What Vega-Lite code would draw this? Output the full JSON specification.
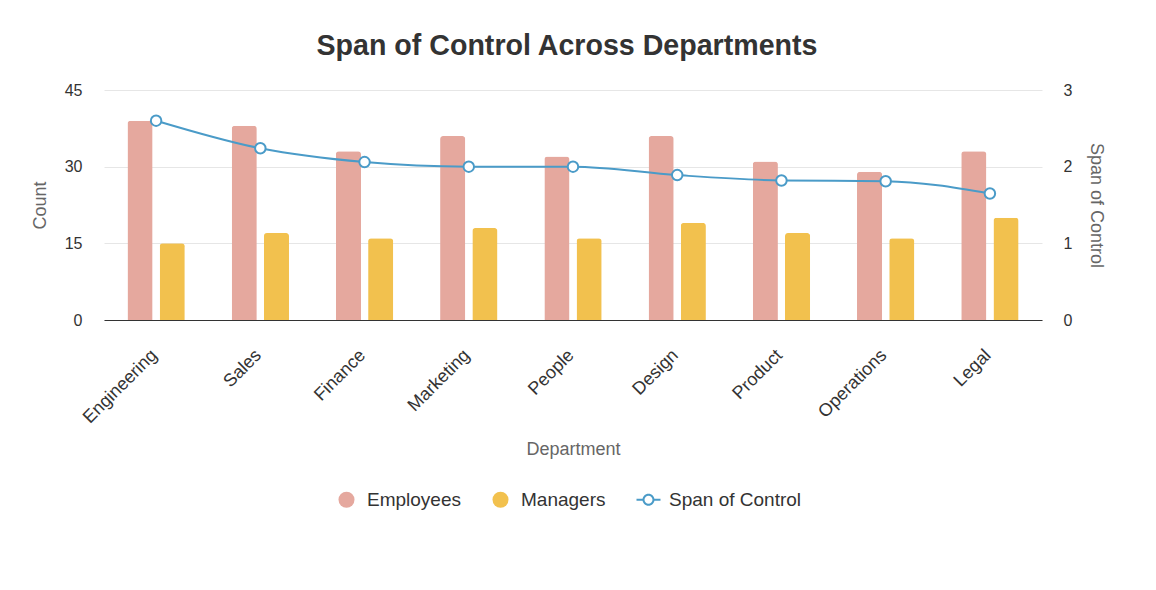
{
  "$schema": "https://vega.github.io/schema/vega-lite/v6.json",
  "autosize": {"type": "none"},
  "width": 938,
  "height": 230,
  "padding": {"left": 104, "top": 90, "right": 114, "bottom": 270},
  "background": "#ffffff",
  "title": {
    "text": "Span of Control Across Departments",
    "fontSize": 28.6,
    "fontWeight": "bold",
    "color": "#333333",
    "font": "Liberation Sans",
    "anchor": "middle",
    "dx": -6,
    "offset": 21
  },
  "config": {
    "view": {"stroke": null},
    "font": "Liberation Sans",
    "axis": {
      "labelFont": "Liberation Sans",
      "titleFont": "Liberation Sans",
      "labelFontSize": 16,
      "labelColor": "#333333",
      "titleFontSize": 18,
      "titleColor": "#666666",
      "titleFontWeight": "normal"
    },
    "legend": {
      "labelFont": "Liberation Sans"
    }
  },
  "data": {
    "values": [
      {"Department": "Engineering", "Employees": 39, "Managers": 15, "Span": 2.60},
      {"Department": "Sales", "Employees": 38, "Managers": 17, "Span": 2.24},
      {"Department": "Finance", "Employees": 33, "Managers": 16, "Span": 2.06},
      {"Department": "Marketing", "Employees": 36, "Managers": 18, "Span": 2.00},
      {"Department": "People", "Employees": 32, "Managers": 16, "Span": 2.00},
      {"Department": "Design", "Employees": 36, "Managers": 19, "Span": 1.89},
      {"Department": "Product", "Employees": 31, "Managers": 17, "Span": 1.82},
      {"Department": "Operations", "Employees": 29, "Managers": 16, "Span": 1.81},
      {"Department": "Legal", "Employees": 33, "Managers": 20, "Span": 1.65}
    ]
  },
  "encoding": {
    "x": {
      "field": "Department",
      "type": "nominal",
      "sort": null,
      "scale": {"paddingInner": 0.45, "paddingOuter": 0.225},
      "axis": {
        "title": "Department",
        "labelAngle": -45,
        "labelFontSize": 18,
        "labelBaseline": "top",
        "labelOffset": -8,
        "ticks": false,
        "tickSize": 0,
        "labelPadding": 26,
        "titlePadding": 14,
        "domainColor": "#333333",
        "domainWidth": 1,
        "grid": false
      }
    }
  },
  "layer": [
    {
      "transform": [{"fold": ["Employees", "Managers"], "as": ["Series", "Count"]}],
      "mark": {"type": "bar", "cornerRadiusTopLeft": 3, "cornerRadiusTopRight": 3},
      "encoding": {
        "xOffset": {"field": "Series", "type": "nominal", "scale": {"paddingInner": 0.22}},
        "y": {
          "field": "Count",
          "type": "quantitative",
          "scale": {"domain": [0, 45]},
          "axis": {
            "title": "Count",
            "values": [0, 15, 30, 45],
            "domain": false,
            "ticks": false,
            "tickSize": 0,
            "labelPadding": 22,
            "titlePadding": 15,
            "gridColor": "#e6e6e6",
            "gridWidth": 1
          }
        },
        "color": {
          "field": "Series",
          "type": "nominal",
          "scale": {
            "domain": ["Employees", "Managers", "Span of Control"],
            "range": ["#e5a89e", "#f2c14e", "#4a9bc8"]
          },
          "legend": {
            "title": null,
            "orient": "none",
            "direction": "horizontal",
            "legendX": 233,
            "legendY": 400,
            "labelFontSize": 19,
            "labelColor": "#333333",
            "symbolSize": 256,
            "columnPadding": 30,
            "labelOffset": 11,
            "padding": 0,
            "symbolOpacity": 1,
            "encode": {
              "symbols": {
                "update": {
                  "shape": {"signal": "datum.label === 'Span of Control' ? 'M-1.5,-0.125L-0.7,-0.125L-0.7,0.125L-1.5,0.125ZM0.7,-0.125L1.5,-0.125L1.5,0.125L0.7,0.125ZM-0.75,0A0.75,0.75,0,1,1,0.75,0A0.75,0.75,0,1,1,-0.75,0ZM-0.5,0A0.5,0.5,0,1,0,0.5,0A0.5,0.5,0,1,0,-0.5,0Z' : 'circle'"},
                  "fill": {"signal": "scale('color', datum.value)"},
                  "stroke": {"value": "transparent"},
                  "strokeWidth": {"value": 0},
                  "opacity": {"value": 1},
                  "fillOpacity": {"value": 1}
                }
              }
            }
          }
        }
      }
    },
    {
      "layer": [
        {
          "mark": {"type": "line", "interpolate": "monotone", "strokeWidth": 2},
          "encoding": {
            "y": {
              "field": "Span",
              "type": "quantitative",
              "scale": {"domain": [0, 3]},
              "axis": {
                "orient": "right",
                "title": "Span of Control",
                "values": [0, 1, 2, 3],
                "format": "d",
                "grid": false,
                "domain": false,
                "ticks": false,
                "tickSize": 0,
                "labelPadding": 21,
                "titlePadding": 15
              }
            },
            "color": {"datum": "Span of Control", "type": "nominal"}
          }
        },
        {
          "mark": {"type": "point", "filled": true, "fill": "#ffffff", "stroke": "#4a9bc8", "strokeWidth": 2, "size": 110, "opacity": 1},
          "encoding": {
            "y": {"field": "Span", "type": "quantitative"}
          }
        }
      ]
    }
  ],
  "resolve": {"scale": {"y": "independent"}}
}
